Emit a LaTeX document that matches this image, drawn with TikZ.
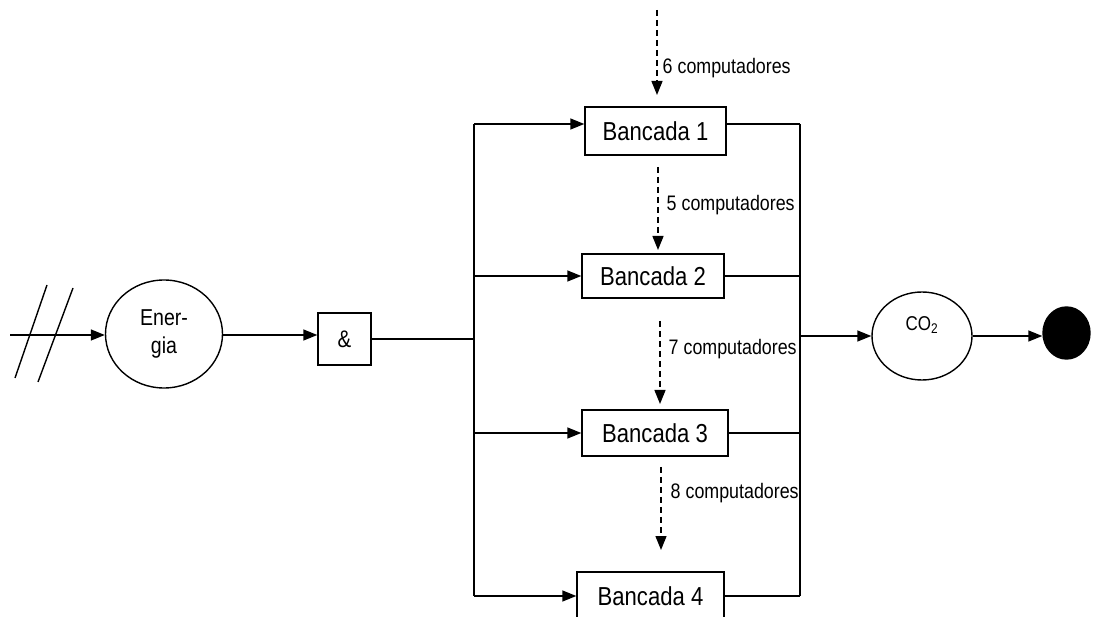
\documentclass[tikz,border=0pt]{standalone}
\usepackage{fontspec}
\setmainfont{Liberation Sans}[FakeStretch=0.85]
\usetikzlibrary{arrows.meta,shapes.geometric}
\begin{document}
\begin{tikzpicture}[x=1pt,y=-1pt,
  line width=1.4pt,
  arr/.style={-{Triangle[length=14pt,width=11pt]}},
  darr/.style={arr,dash pattern=on 6pt off 4pt},
  benchbox/.style={draw,rectangle,inner sep=0pt,font=\fontsize{26}{30}\selectfont},
  oval/.style={draw,ellipse,inner sep=0pt},
  countlabel/.style={anchor=west,inner sep=0pt,font=\fontsize{21}{24}\selectfont}]
\useasboundingbox (0,0) rectangle (1093,617);

% source, operator and sink
\node[oval,minimum width=117pt,minimum height=108pt,align=center,
      font=\fontsize{23}{28}\selectfont] (en) at (164,334) {Ener-\\gia};
\node[draw,rectangle,minimum width=53pt,minimum height=52pt,inner sep=0pt,
      font=\fontsize{24}{28}\selectfont] (and) at (344.5,339) {\&};
\node[oval,minimum width=100pt,minimum height=88pt] (co2) at (922,336) {};
\node[inner sep=0pt,font=\fontsize{20}{24}\selectfont] (co2t) at (922,325) {CO\textsubscript{2}};
\node[ellipse,fill=black,draw,minimum width=47pt,minimum height=52pt,inner sep=0pt] (dot) at (1066.5,333) {};

% workbenches
\node[benchbox,minimum width=141pt,minimum height=48pt] (b1) at (655.5,131) {Bancada 1};
\node[benchbox,minimum width=142pt,minimum height=44pt] (b2) at (653,276) {Bancada 2};
\node[benchbox,minimum width=146pt,minimum height=46pt] (b3) at (655,433) {Bancada 3};
\node[benchbox,minimum width=147pt,minimum height=48pt] (b4) at (650.5,596) {Bancada 4};

% bus positions and the row where bench 1 is fed
\coordinate (busL) at (474,0);
\coordinate (busR) at (800,0);
\coordinate (row1) at (0,124);

% input with double slash
\coordinate (in) at (10,335);
\draw[arr] (in) -- (en.west |- in);
\draw (15,378) -- (47,285);
\draw (38,382) -- (73,288);

\draw[arr] (en.east |- in) -- (and.west |- in);

% distribution bus
\draw (and.east) -- (and.east -| busL);
\draw (busL |- row1) -- (b4.west -| busL);
\draw[arr] (busL |- row1) -- (b1.west |- row1);
\foreach \b in {b2,b3,b4}
  \draw[arr] (\b.west -| busL) -- (\b.west);

% collection bus
\draw (busR |- row1) -- (b4.east -| busR);
\draw (b1.east |- row1) -- (busR |- row1);
\foreach \b in {b2,b3,b4}
  \draw (\b.east) -- (\b.east -| busR);
\draw[arr] (co2.west -| busR) -- (co2.west);
\draw[arr] (co2.east) -- (co2.east -| dot.west);

% computers flowing into each bench
\coordinate (d1s) at (657,10);  \coordinate (d1e) at (657,95);
\coordinate (d2s) at (658,167); \coordinate (d2e) at (658,250);
\coordinate (d3s) at (660,321); \coordinate (d3e) at (660,404);
\coordinate (d4s) at (661,467); \coordinate (d4e) at (661,550);
\draw[darr] (d1s) -- (d1e);
\draw[darr] (d2s) -- (d2e);
\draw[darr] (d3s) -- (d3e);
\draw[darr] (d4s) -- (d4e);
\node[countlabel] (l1) at (662,68)  {6 computadores};
\node[countlabel] (l2) at (666,205) {5 computadores};
\node[countlabel] (l3) at (668,349) {7 computadores};
\node[countlabel] (l4) at (670,493) {8 computadores};
\end{tikzpicture}
\end{document}
